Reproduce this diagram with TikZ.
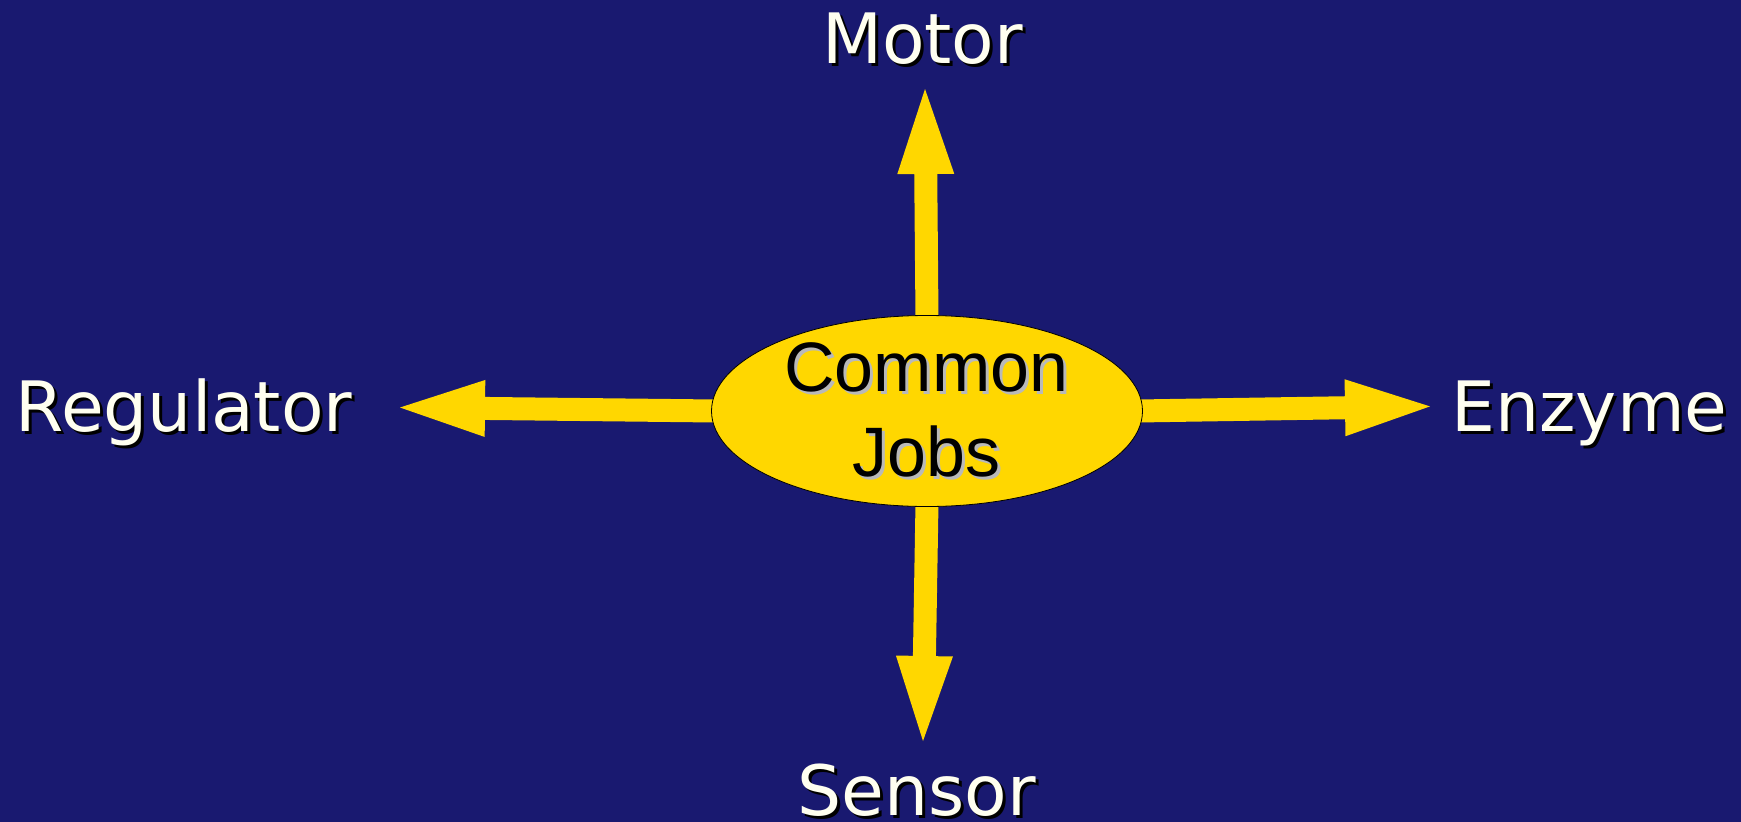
\documentclass[tikz,border=0pt]{standalone}
\usepackage{fontspec}
\usetikzlibrary{arrows.meta,shapes.geometric}
\newfontfamily\labelfont{DejaVu Sans}
\newfontfamily\hubfont{Liberation Sans}
\definecolor{navy}{RGB}{25,25,112}
\definecolor{gold}{RGB}{255,215,0}
\definecolor{ivory}{RGB}{255,255,240}
\definecolor{hubshade}{RGB}{185,185,185}
\pgfdeclarelayer{back}
\pgfsetlayers{back,main}

\begin{document}
\begin{tikzpicture}[x=1pt,y=-1pt,
  lbl/.style={font=\labelfont\fontsize{69.5}{82}\selectfont, text=ivory, anchor=base, inner sep=0pt},
  lblshade/.style={lbl, text=black},
  hubtext/.style={font=\hubfont\fontsize{70}{84}\selectfont, text=black, anchor=base, inner sep=0pt},
  hubshadetext/.style={hubtext, text=hubshade},
  hubshape/.style={ellipse, minimum width=431pt, minimum height=191pt, inner sep=0pt,
                   fill=gold, draw=black, line width=0.8pt},
  spoke/.style={draw=gold, line width=23pt,
                -{Triangle[length=85pt,width=57pt,line width=0pt]}}]

% canvas
\useasboundingbox (0,0) rectangle (1741,822);

% central hub
\node[hubshape] (hub) at (927,411) {};
\node[hubshadetext] (commonS) at (929.3,394.7) {Common};
\node[hubtext] (common) at (926.3,391.7) {Common};
\node[hubshadetext] (jobsS) at (929.5,479.7) {Jobs};
\node[hubtext] (jobs) at (926.5,476.7) {Jobs};

% arrow tips
\coordinate (tipN) at (925,89);
\coordinate (tipS) at (923,741);
\coordinate (tipW) at (400,407.5);
\coordinate (tipE) at (1430,406.4);

% spokes, behind the hub
\begin{pgfonlayer}{back}
  \fill[navy] (0,0) rectangle (1741,822);
  \draw[spoke] ([yshift=-4pt]hub.north) -- (tipN);
  \draw[spoke] ([yshift=4pt]hub.south) -- (tipS);
  \draw[spoke] ([xshift=5pt]hub.west) -- (tipW);
  \draw[spoke] ([xshift=-5pt]hub.east) -- (tipE);
\end{pgfonlayer}

% outer labels with drop shadows
\node[lblshade] (motorS) at (925.5,66.3) {Motor};
\node[lbl] (motor) at (922.5,63.3) {Motor};
\node[lblshade] (regulatorS) at (187,434.7) {Regulator};
\node[lbl] (regulator) at (184,431.7) {Regulator};
\node[lblshade] (enzymeS) at (1592.5,434.7) {Enzyme};
\node[lbl] (enzyme) at (1589.5,431.7) {Enzyme};
\node[lblshade] (sensorS) at (919.5,818) {Sensor};
\node[lbl] (sensor) at (916.5,815) {Sensor};
\end{tikzpicture}
\end{document}
